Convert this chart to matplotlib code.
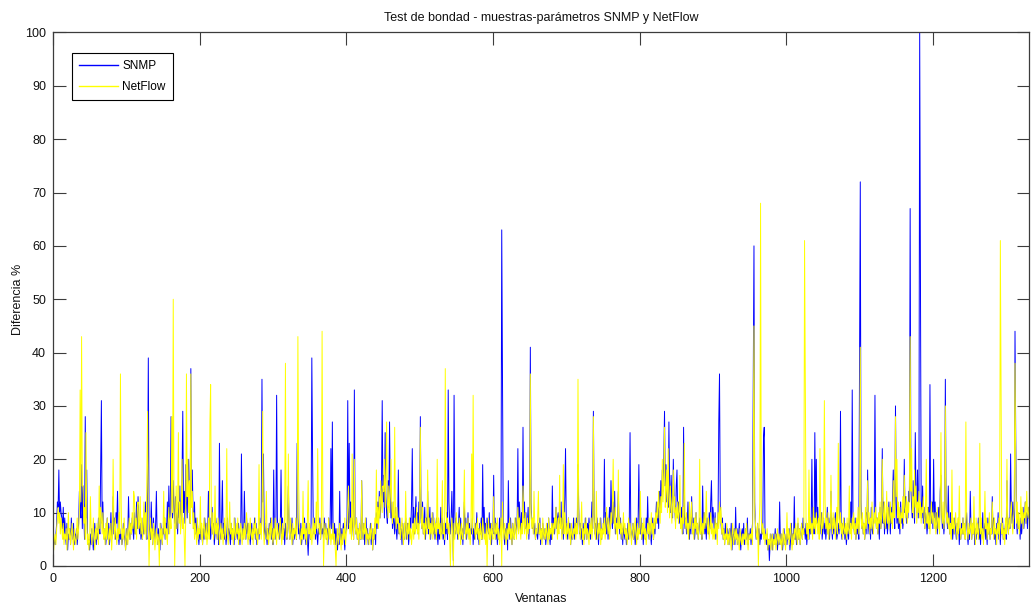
import numpy as np
import matplotlib
matplotlib.use("Agg")
import matplotlib.pyplot as plt

plt.rcParams['font.family'] = ['Liberation Sans', 'DejaVu Sans']

title = "Test de bondad - muestras-parámetros SNMP y NetFlow"
x_label = "Ventanas"
y_label = "Diferencia %"
series_names = ["SNMP", "NetFlow"]
x_ticks = [0, 200, 400, 600, 800, 1000, 1200]
y_ticks = [0, 10, 20, 30, 40, 50, 60, 70, 80, 90, 100]

# Difference (%) per window, SNMP parameters
snmp = [
    # 0-99
    4, 5, 4, 6, 8, 12, 11, 18, 9, 12,
    10, 9, 7, 11, 5, 9, 6, 4, 8, 3,
    6, 5, 7, 4, 9, 6, 5, 8, 4, 6,
    5, 7, 4, 6, 8, 14, 11, 9, 19, 7,
    15, 10, 5, 28, 9, 18, 6, 4, 5, 3,
    6, 4, 7, 5, 3, 6, 8, 5, 4, 7,
    5, 9, 7, 6, 19, 31, 8, 12, 6, 5,
    7, 4, 6, 9, 5, 8, 4, 6, 10, 5,
    7, 13, 6, 9, 5, 10, 8, 14, 6, 4,
    7, 5, 6, 4, 5, 8, 6, 5, 3, 7,
    # 100-199
    4, 6, 13, 7, 5, 8, 6, 9, 7, 5,
    10, 6, 8, 12, 7, 13, 9, 6, 8, 5,
    7, 5, 9, 6, 8, 12, 7, 5, 14, 39,
    8, 6, 5, 12, 7, 4, 9, 6, 5, 8,
    14, 6, 4, 7, 5, 3, 8, 6, 4, 7,
    6, 9, 5, 8, 7, 12, 6, 15, 8, 10,
    28, 12, 9, 16, 11, 8, 13, 7, 10, 6,
    12, 9, 15, 7, 11, 17, 29, 10, 14, 8,
    19, 12, 9, 16, 20, 11, 8, 37, 13, 18,
    10, 7, 12, 6, 9, 5, 8, 6, 4, 7,
    # 200-299
    5, 8, 6, 4, 7, 5, 9, 6, 8, 5,
    7, 14, 6, 9, 5, 7, 11, 6, 8, 4,
    6, 9, 7, 5, 8, 4, 23, 7, 5, 9,
    16, 6, 8, 5, 7, 4, 6, 9, 5, 7,
    6, 4, 8, 5, 7, 6, 4, 9, 5, 6,
    7, 5, 8, 6, 4, 7, 21, 8, 5, 6,
    14, 7, 5, 9, 6, 8, 5, 7, 4, 6,
    8, 5, 7, 6, 9, 5, 8, 4, 6, 7,
    5, 9, 6, 8, 35, 12, 21, 7, 5, 8,
    6, 4, 7, 5, 8, 6, 9, 5, 7, 4,
    # 300-399
    18, 7, 5, 8, 32, 9, 6, 8, 5, 7,
    18, 6, 9, 5, 7, 4, 8, 6, 5, 9,
    15, 7, 5, 8, 6, 9, 4, 7, 5, 6,
    8, 5, 23, 9, 6, 7, 5, 8, 4, 6,
    7, 5, 9, 6, 4, 8, 5, 2, 6, 7,
    5, 8, 39, 21, 7, 6, 9, 5, 8, 6,
    4, 7, 6, 9, 5, 8, 6, 7, 5, 9,
    6, 8, 5, 7, 4, 9, 6, 8, 22, 7,
    27, 6, 5, 8, 4, 7, 5, 3, 6, 4,
    14, 5, 7, 4, 6, 8, 5, 3, 6, 7,
    # 400-499
    9, 31, 7, 23, 8, 12, 6, 9, 7, 5,
    33, 8, 6, 9, 5, 7, 4, 8, 6, 5,
    16, 7, 5, 8, 4, 6, 9, 5, 7, 4,
    6, 5, 8, 4, 7, 3, 6, 5, 8, 4,
    10, 7, 12, 8, 14, 9, 11, 15, 31, 12,
    17, 9, 25, 13, 10, 8, 16, 11, 27, 14,
    9, 12, 7, 10, 8, 6, 11, 7, 5, 8,
    18, 6, 9, 5, 7, 4, 8, 6, 5, 7,
    9, 5, 7, 8, 4, 6, 9, 7, 12, 22,
    8, 11, 6, 9, 13, 7, 10, 6, 12, 8,
    # 500-599
    28, 9, 7, 12, 6, 8, 11, 5, 9, 7,
    14, 6, 8, 11, 5, 9, 7, 10, 6, 8,
    5, 7, 9, 6, 4, 8, 5, 7, 11, 6,
    9, 5, 7, 4, 8, 6, 10, 5, 33, 12,
    8, 6, 9, 14, 7, 1, 32, 10, 6, 9,
    7, 5, 8, 11, 6, 9, 5, 7, 4, 8,
    12, 6, 9, 5, 7, 10, 6, 8, 5, 7,
    6, 9, 4, 7, 5, 8, 6, 10, 5, 7,
    4, 8, 6, 9, 5, 19, 7, 11, 6, 8,
    5, 9, 7, 6, 10, 5, 8, 4, 7, 6,
    # 600-699
    17, 6, 9, 5, 8, 4, 7, 5, 9, 6,
    8, 63, 37, 9, 6, 4, 7, 5, 8, 3,
    16, 7, 5, 9, 6, 4, 8, 6, 5, 7,
    9, 6, 8, 22, 7, 12, 9, 6, 10, 8,
    26, 9, 12, 7, 10, 6, 8, 11, 5, 9,
    41, 12, 8, 7, 9, 6, 8, 5, 7, 6,
    5, 8, 6, 9, 4, 7, 5, 8, 6, 5,
    7, 4, 6, 8, 5, 9, 6, 4, 7, 5,
    15, 7, 9, 6, 8, 11, 7, 9, 10, 8,
    10, 7, 12, 6, 9, 5, 8, 13, 22, 8,
    # 700-799
    7, 5, 9, 6, 8, 4, 7, 5, 6, 9,
    5, 8, 6, 9, 7, 19, 11, 6, 8, 5,
    7, 4, 8, 6, 5, 9, 7, 5, 8, 6,
    9, 6, 5, 8, 12, 7, 29, 10, 6, 8,
    5, 9, 7, 4, 8, 6, 9, 5, 7, 6,
    8, 20, 7, 10, 6, 9, 5, 8, 11, 7,
    16, 9, 7, 12, 8, 14, 6, 9, 7, 10,
    14, 8, 6, 9, 5, 7, 4, 8, 6, 5,
    7, 4, 6, 8, 5, 9, 25, 7, 5, 6,
    8, 5, 7, 4, 6, 9, 5, 8, 19, 7,
    # 800-899
    6, 9, 5, 8, 4, 7, 6, 5, 9, 6,
    13, 7, 5, 8, 6, 4, 7, 9, 5, 8,
    6, 9, 12, 8, 11, 7, 14, 10, 16, 12,
    18, 14, 20, 29, 15, 19, 12, 16, 11, 27,
    14, 10, 17, 12, 9, 20, 13, 11, 8, 15,
    18, 9, 12, 8, 10, 7, 11, 9, 6, 26,
    10, 7, 9, 6, 8, 12, 7, 5, 9, 6,
    13, 8, 6, 9, 5, 7, 10, 6, 8, 5,
    7, 9, 6, 8, 5, 15, 7, 10, 6, 8,
    5, 9, 7, 6, 10, 7, 12, 16, 8, 11,
    # 900-999
    9, 6, 10, 5, 8, 6, 9, 27, 36, 12,
    8, 6, 9, 5, 7, 4, 8, 6, 5, 7,
    6, 4, 7, 5, 8, 3, 6, 5, 7, 4,
    11, 5, 7, 4, 6, 8, 5, 3, 6, 7,
    5, 8, 4, 6, 7, 5, 9, 4, 6, 5,
    7, 4, 6, 8, 33, 60, 12, 7, 5, 6,
    8, 5, 7, 4, 6, 5, 8, 6, 24, 26,
    7, 5, 4, 6, 3, 5, 1, 4, 6, 5,
    3, 6, 4, 5, 7, 4, 6, 3, 5, 4,
    12, 5, 4, 6, 3, 5, 7, 4, 5, 6,
    # 1000-1099
    4, 6, 5, 7, 3, 5, 8, 4, 6, 5,
    13, 5, 7, 4, 6, 8, 5, 7, 4, 6,
    8, 5, 9, 6, 7, 5, 8, 4, 6, 7,
    5, 9, 6, 8, 20, 7, 10, 6, 25, 9,
    20, 8, 11, 7, 9, 6, 8, 10, 5, 7,
    9, 6, 8, 5, 7, 11, 6, 9, 5, 8,
    14, 7, 5, 9, 6, 8, 10, 7, 5, 6,
    8, 6, 9, 29, 7, 5, 8, 6, 9, 5,
    7, 4, 6, 8, 5, 9, 7, 12, 6, 33,
    10, 8, 6, 9, 5, 7, 6, 8, 5, 41,
    # 1100-1199
    72, 12, 7, 9, 6, 8, 5, 7, 10, 6,
    18, 8, 6, 9, 5, 11, 7, 6, 8, 9,
    32, 10, 7, 9, 6, 8, 5, 11, 7, 9,
    22, 8, 12, 6, 9, 7, 10, 6, 8, 12,
    9, 6, 11, 8, 13, 18, 10, 7, 30, 12,
    8, 11, 7, 9, 6, 12, 8, 10, 7, 9,
    20, 10, 13, 8, 11, 9, 14, 12, 67, 15,
    11, 9, 16, 12, 8, 25, 13, 10, 18, 9,
    14, 100, 57, 12, 9, 15, 8, 11, 7, 10,
    9, 6, 8, 11, 7, 34, 10, 8, 12, 7,
    # 1200-1299
    20, 9, 12, 7, 10, 6, 9, 11, 8, 14,
    17, 10, 7, 9, 6, 8, 35, 12, 9, 7,
    15, 8, 6, 10, 7, 9, 5, 8, 6, 9,
    7, 5, 8, 6, 9, 4, 7, 5, 8, 6,
    9, 6, 7, 5, 8, 10, 6, 4, 7, 5,
    14, 7, 5, 8, 6, 9, 4, 7, 5, 8,
    6, 9, 5, 7, 4, 8, 6, 10, 5, 7,
    8, 5, 7, 4, 9, 6, 8, 5, 7, 6,
    13, 6, 9, 5, 7, 4, 8, 6, 10, 5,
    7, 4, 8, 6, 9, 5, 7, 6, 8, 5,
    # 1300-1330
    16, 8, 6, 9, 7, 21, 10, 8, 12, 9,
    7, 44, 24, 9, 6, 10, 7, 8, 5, 9,
    6, 8, 11, 7, 9, 12, 8, 10, 7, 11,
    9,
]

# Difference (%) per window, NetFlow parameters
netflow = [
    # 0-99
    3, 5, 6, 4, 7, 9, 11, 8, 10, 6,
    9, 7, 5, 8, 4, 6, 5, 7, 3, 6,
    10, 5, 7, 4, 6, 8, 5, 3, 7, 5,
    4, 6, 9, 5, 7, 10, 33, 12, 43, 15,
    15, 8, 11, 5, 25, 9, 4, 6, 3, 5,
    13, 7, 4, 6, 9, 5, 3, 7, 5, 8,
    6, 4, 15, 7, 11, 9, 6, 10, 5, 7,
    4, 8, 5, 9, 6, 4, 7, 5, 8, 3,
    6, 20, 8, 5, 9, 6, 4, 7, 5, 10,
    6, 36, 12, 4, 7, 5, 9, 6, 3, 5,
    # 100-199
    7, 4, 6, 9, 5, 8, 6, 10, 7, 14,
    13, 6, 9, 5, 11, 12, 7, 8, 13, 6,
    9, 5, 7, 12, 6, 10, 5, 17, 29, 8,
    0, 6, 9, 5, 7, 4, 8, 6, 3, 5,
    7, 4, 6, 5, 0, 8, 5, 7, 4, 6,
    14, 6, 9, 5, 7, 4, 8, 11, 6, 9,
    7, 28, 10, 50, 12, 0, 9, 15, 7, 11,
    25, 8, 12, 6, 10, 20, 7, 9, 5, 0,
    9, 36, 13, 20, 10, 16, 8, 36, 11, 14,
    7, 10, 5, 8, 6, 4, 9, 5, 7, 6,
    # 200-299
    13, 5, 8, 4, 7, 9, 6, 5, 8, 4,
    6, 9, 5, 27, 34, 8, 6, 10, 5, 7,
    15, 6, 8, 5, 9, 7, 4, 6, 8, 5,
    7, 4, 6, 9, 5, 8, 22, 6, 4, 7,
    12, 6, 8, 5, 7, 4, 9, 6, 5, 8,
    6, 9, 4, 7, 5, 8, 6, 4, 7, 5,
    8, 5, 7, 10, 6, 4, 8, 5, 9, 6,
    5, 7, 4, 8, 6, 9, 5, 7, 4, 6,
    19, 6, 8, 5, 9, 29, 7, 4, 6, 8,
    14, 5, 7, 4, 6, 8, 5, 9, 6, 4,
    # 300-399
    7, 5, 9, 6, 4, 8, 6, 5, 7, 9,
    6, 4, 8, 5, 7, 9, 38, 6, 5, 8,
    21, 7, 5, 9, 6, 4, 8, 5, 7, 6,
    9, 5, 7, 43, 16, 8, 6, 4, 7, 5,
    14, 6, 8, 5, 7, 4, 9, 16, 6, 8,
    5, 7, 4, 6, 9, 5, 8, 6, 12, 7,
    22, 9, 6, 8, 5, 7, 44, 12, 0, 6,
    8, 5, 7, 4, 6, 9, 5, 7, 4, 6,
    5, 8, 4, 6, 3, 0, 5, 7, 4, 6,
    8, 5, 3, 6, 4, 7, 5, 9, 4, 6,
    # 400-499
    7, 11, 15, 8, 6, 9, 5, 21, 7, 5,
    20, 8, 6, 9, 5, 7, 4, 8, 6, 5,
    16, 7, 5, 8, 6, 9, 4, 7, 5, 6,
    4, 7, 5, 8, 6, 3, 7, 5, 9, 6,
    18, 8, 11, 7, 13, 9, 16, 12, 10, 15,
    14, 20, 11, 17, 27, 12, 9, 15, 10, 13,
    20, 11, 8, 12, 9, 26, 10, 7, 11, 8,
    9, 6, 8, 5, 7, 9, 6, 4, 8, 5,
    14, 7, 5, 8, 6, 9, 5, 7, 4, 6,
    8, 5, 9, 6, 7, 11, 6, 8, 5, 10,
    # 500-599
    26, 9, 7, 11, 6, 8, 5, 9, 7, 6,
    18, 7, 9, 5, 8, 6, 10, 5, 7, 9,
    6, 8, 5, 20, 7, 9, 6, 8, 5, 7,
    16, 6, 8, 5, 37, 12, 7, 9, 6, 8,
    5, 0, 7, 9, 6, 0, 8, 5, 7, 10,
    6, 8, 5, 9, 7, 4, 8, 6, 5, 9,
    18, 7, 5, 8, 6, 9, 5, 7, 4, 8,
    21, 6, 32, 9, 7, 5, 8, 6, 9, 5,
    7, 4, 8, 6, 5, 9, 7, 5, 6, 4,
    8, 0, 6, 9, 5, 7, 4, 8, 6, 5,
    # 600-699
    13, 7, 5, 8, 6, 9, 5, 7, 4, 6,
    9, 0, 12, 7, 5, 8, 6, 4, 7, 5,
    8, 6, 9, 5, 7, 4, 8, 6, 5, 9,
    7, 5, 8, 11, 6, 9, 7, 5, 8, 6,
    15, 8, 6, 10, 7, 5, 9, 6, 8, 7,
    36, 10, 7, 9, 6, 14, 8, 5, 7, 6,
    9, 14, 6, 8, 5, 7, 4, 9, 6, 5,
    7, 5, 8, 6, 4, 9, 5, 7, 6, 8,
    5, 8, 6, 9, 7, 11, 8, 5, 9, 6,
    17, 7, 9, 5, 8, 19, 6, 10, 7, 5,
    # 700-799
    8, 6, 9, 5, 7, 4, 8, 6, 5, 7,
    6, 9, 5, 8, 6, 35, 10, 7, 5, 8,
    12, 5, 7, 4, 8, 6, 9, 5, 7, 6,
    4, 8, 6, 9, 5, 7, 28, 9, 6, 5,
    14, 7, 5, 8, 6, 9, 4, 7, 5, 8,
    6, 9, 5, 7, 11, 8, 6, 9, 5, 7,
    10, 8, 12, 20, 9, 7, 11, 6, 8, 5,
    18, 7, 9, 6, 8, 5, 7, 10, 6, 8,
    5, 7, 4, 6, 9, 5, 8, 6, 4, 7,
    8, 5, 7, 9, 6, 4, 8, 5, 7, 6,
    # 800-899
    14, 7, 5, 8, 6, 9, 5, 7, 4, 6,
    8, 6, 9, 5, 7, 10, 6, 8, 5, 9,
    7, 10, 8, 12, 9, 14, 11, 8, 13, 10,
    20, 12, 16, 26, 11, 14, 18, 10, 22, 13,
    9, 15, 11, 8, 12, 18, 10, 13, 7, 11,
    9, 12, 8, 10, 17, 7, 9, 6, 11, 8,
    23, 9, 7, 10, 6, 8, 5, 12, 7, 9,
    12, 6, 8, 5, 9, 7, 10, 6, 8, 5,
    7, 20, 6, 9, 5, 8, 6, 10, 7, 9,
    14, 8, 6, 9, 5, 7, 10, 6, 8, 5,
    # 900-999
    7, 5, 9, 6, 8, 4, 10, 7, 12, 8,
    11, 6, 8, 5, 7, 4, 6, 5, 8, 4,
    6, 4, 7, 5, 3, 6, 8, 4, 5, 7,
    5, 7, 4, 6, 5, 3, 7, 5, 4, 6,
    4, 6, 5, 7, 4, 8, 5, 3, 6, 5,
    6, 5, 7, 4, 18, 45, 10, 8, 6, 5,
    8, 0, 7, 12, 68, 9, 6, 8, 5, 7,
    4, 6, 5, 7, 3, 5, 4, 6, 3, 5,
    6, 3, 5, 4, 6, 3, 5, 7, 4, 6,
    5, 4, 6, 3, 5, 7, 4, 6, 3, 5,
    # 1000-1099
    10, 5, 7, 4, 6, 8, 5, 3, 6, 4,
    7, 5, 8, 6, 4, 9, 5, 7, 4, 6,
    8, 5, 7, 6, 61, 33, 9, 6, 8, 5,
    18, 7, 9, 6, 8, 5, 11, 7, 9, 6,
    10, 8, 6, 9, 5, 22, 8, 6, 10, 7,
    9, 31, 12, 7, 9, 6, 10, 5, 8, 7,
    17, 8, 6, 10, 7, 9, 5, 8, 11, 6,
    23, 9, 7, 10, 6, 8, 5, 9, 7, 6,
    8, 5, 9, 6, 7, 15, 6, 8, 5, 9,
    7, 10, 6, 8, 5, 9, 7, 11, 6, 8,
    # 1100-1199
    41, 9, 7, 10, 6, 8, 5, 11, 7, 9,
    16, 8, 10, 6, 9, 7, 12, 8, 6, 10,
    8, 11, 7, 9, 6, 10, 8, 12, 7, 9,
    20, 10, 8, 12, 7, 9, 14, 8, 11, 7,
    9, 12, 8, 10, 7, 16, 9, 11, 28, 13,
    20, 9, 12, 8, 11, 7, 10, 9, 13, 8,
    17, 11, 9, 13, 8, 12, 10, 15, 43, 14,
    22, 10, 13, 9, 18, 11, 15, 8, 12, 10,
    14, 9, 12, 8, 11, 10, 13, 9, 7, 11,
    20, 8, 11, 7, 10, 6, 9, 12, 8, 10,
    # 1200-1299
    9, 7, 10, 6, 8, 11, 7, 9, 6, 12,
    25, 10, 8, 12, 7, 9, 30, 11, 8, 10,
    7, 9, 6, 8, 5, 18, 7, 9, 6, 8,
    10, 7, 5, 9, 6, 15, 8, 5, 7, 6,
    9, 6, 8, 5, 27, 10, 7, 5, 8, 6,
    7, 9, 5, 8, 6, 13, 7, 4, 9, 6,
    8, 5, 7, 23, 6, 9, 5, 7, 4, 8,
    14, 7, 9, 5, 8, 6, 10, 5, 7, 6,
    12, 8, 5, 9, 6, 7, 4, 8, 6, 9,
    5, 61, 34, 6, 8, 5, 7, 4, 9, 6,
    # 1300-1330
    20, 8, 6, 9, 7, 10, 12, 8, 6, 9,
    11, 38, 20, 8, 12, 7, 10, 6, 9, 13,
    8, 11, 7, 10, 9, 12, 8, 14, 10, 9,
    11,
]

n = len(snmp)
windows = np.arange(1, n + 1)

fig = plt.figure(figsize=(10.31, 6.05), dpi=100)
ax = fig.add_axes([0.0514, 0.0645, 0.9466, 0.8818])

ax.plot(windows, snmp, color=(0, 0, 1), lw=0.7, label=series_names[0])
ax.plot(windows, netflow, color=(1, 1, 0), lw=0.7, label=series_names[1])

ax.set_xlim(0, n)
ax.set_ylim(0, 100)
ax.set_xticks(x_ticks)
ax.set_yticks(y_ticks)

spine_color = "#3c3c3c"
for s in ax.spines.values():
    s.set_color(spine_color)
    s.set_linewidth(0.9)
ax.tick_params(direction="in", length=9, width=0.8, color=spine_color,
               top=True, right=True, labelsize=9, pad=5, labelcolor="#111111")

ax.set_title(title, fontsize=9, pad=8.4, color="#111111")
ax.set_xlabel(x_label, fontsize=9, labelpad=5.6, color="#111111")
ax.set_ylabel(y_label, fontsize=9, labelpad=1, color="#111111")

leg = ax.legend(loc="upper left", bbox_to_anchor=(0.0195, 0.9616),
                borderaxespad=0, fancybox=False, edgecolor="black",
                framealpha=1, fontsize=8.5, handlelength=3.3,
                handletextpad=0.35, borderpad=0.6, labelspacing=0.75)
leg.get_frame().set_linewidth(0.8)
for h in leg.legend_handles:
    h.set_linewidth(1.0)

fig.savefig("out.png", dpi=100)
